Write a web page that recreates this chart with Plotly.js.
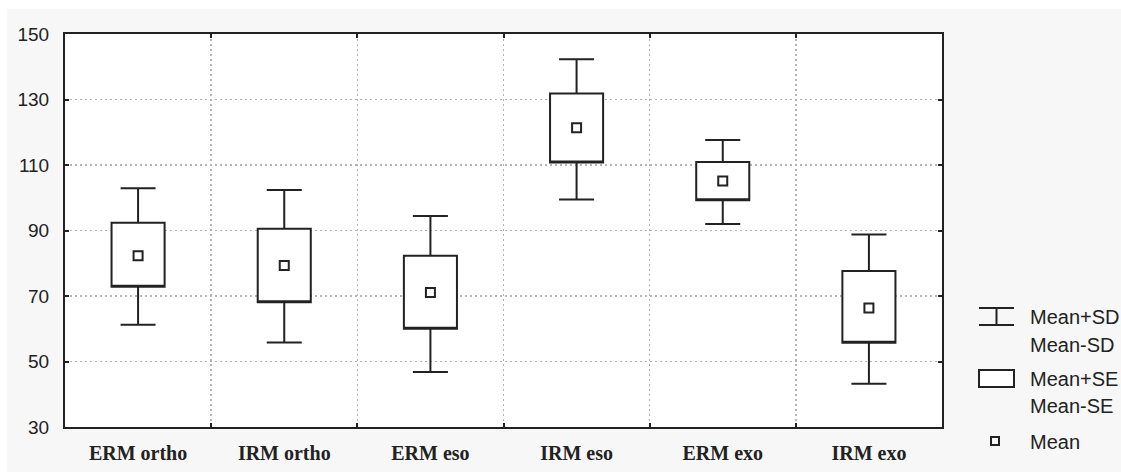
<!DOCTYPE html>
<html>
<head>
<meta charset="utf-8">
<script src="https://cdn.plot.ly/plotly-3.0.1.min.js"></script>
<style>html,body{margin:0;padding:0;background:#fff;}#chart{width:1121px;height:474px;}</style>
</head>
<body>
<div id="chart"></div>
<script>
// Categories and values
const categories = ["ERM ortho", "IRM ortho", "ERM eso", "IRM eso", "ERM exo", "IRM exo"];
const meanVals   = [82.3, 79.3, 71.1, 121.4, 105.1, 66.3];
const seUpper    = [92.4, 90.5, 82.3, 131.8, 110.9, 77.6];
const seLower    = [72.8, 68.1, 60.0, 110.8, 99.2, 55.7];
const sdUpper    = [102.9, 102.4, 94.4, 142.3, 117.6, 88.8];
const sdLower    = [61.2, 55.8, 46.8, 99.5, 92.0, 43.2];
const yTicks     = [30, 50, 70, 90, 110, 130, 150];
const legendLabels = [["Mean+SD", "Mean-SD"], ["Mean+SE", "Mean-SE"], ["Mean"]];

const W = 1121, H = 474;
const L = 65, R = 942, T = 34, B = 427;
const px = x => (x - L) / (R - L);
const py = y => (B - y) / (B - T);
const ink = '#222222';

const boxTrace = {
  type: 'box',
  x: categories,
  q1: seLower,
  median: seLower,
  q3: seUpper,
  lowerfence: sdLower,
  upperfence: sdUpper,
  boxpoints: false,
  width: 0.363,
  whiskerwidth: 0.66,
  fillcolor: '#ffffff',
  line: {color: ink, width: 2},
  hoverinfo: 'skip',
  showlegend: false
};

const meanTrace = {
  type: 'scatter',
  mode: 'markers',
  x: categories,
  y: meanVals,
  marker: {symbol: 'square-open', size: 9, color: ink, line: {width: 2, color: ink}},
  showlegend: false,
  hoverinfo: 'skip'
};

const shapes = [
  // white outer frame strips
  {type:'rect', xref:'paper', yref:'paper', x0:px(0), x1:px(7), y0:py(H), y1:py(0), fillcolor:'#ffffff', line:{width:0}, layer:'below'},
  {type:'rect', xref:'paper', yref:'paper', x0:px(0), x1:px(W), y0:py(9), y1:py(0), fillcolor:'#ffffff', line:{width:0}, layer:'below'},
  {type:'rect', xref:'paper', yref:'paper', x0:px(0), x1:px(W), y0:py(H), y1:py(472), fillcolor:'#ffffff', line:{width:0}, layer:'below'},
  // legend: whisker icon
  {type:'line', xref:'paper', yref:'paper', x0:px(979), x1:px(1014), y0:py(308), y1:py(308), line:{color:ink, width:2}},
  {type:'line', xref:'paper', yref:'paper', x0:px(979), x1:px(1014), y0:py(325), y1:py(325), line:{color:ink, width:2}},
  {type:'line', xref:'paper', yref:'paper', x0:px(996.5), x1:px(996.5), y0:py(308), y1:py(325), line:{color:ink, width:2}},
  // legend: box icon
  {type:'rect', xref:'paper', yref:'paper', x0:px(979), x1:px(1014), y0:py(387), y1:py(370), fillcolor:'#ffffff', line:{color:ink, width:2}},
  // legend: mean icon
  {type:'rect', xref:'paper', yref:'paper', x0:px(991), x1:px(999), y0:py(445), y1:py(437), fillcolor:'rgba(0,0,0,0)', line:{color:ink, width:2}}
];

const legFont = {family: 'Liberation Sans, Arial, sans-serif', size: 20, color: ink};
const annotations = [
  {text: legendLabels[0][0], y: 317},
  {text: legendLabels[0][1], y: 345},
  {text: legendLabels[1][0], y: 379},
  {text: legendLabels[1][1], y: 406},
  {text: legendLabels[2][0], y: 442}
].map(a => ({
  xref: 'paper', yref: 'paper', x: px(1028), y: py(a.y), xanchor: 'left', yanchor: 'middle',
  text: a.text, showarrow: false, font: legFont
}));

const layout = {
  width: W, height: H,
  margin: {l: L, r: W - R, t: T, b: H - B, pad: 0},
  paper_bgcolor: '#f7f7f7',
  plot_bgcolor: '#ffffff',
  showlegend: false,
  xaxis: {
    type: 'category',
    tickson: 'boundaries',
    range: [-0.5, 5.5],
    showgrid: true, gridcolor: '#b4b4b4', griddash: '2px,3px', gridwidth: 1.5,
    ticks: 'inside', ticklen: 4, tickwidth: 2, tickcolor: ink,
    showline: true, linecolor: ink, linewidth: 2, mirror: 'all',
    tickfont: {family: 'Liberation Serif, Times New Roman, serif', size: 20, color: ink, weight: 'bold'},
    ticklabelstandoff: 7,
    fixedrange: true
  },
  yaxis: {
    range: [30, 150],
    tickmode: 'array', tickvals: yTicks, ticktext: yTicks.map(String),
    showgrid: true, gridcolor: '#b4b4b4', griddash: '2px,3px', gridwidth: 1.5,
    zeroline: false,
    ticks: 'inside', ticklen: 4, tickwidth: 2, tickcolor: ink,
    showline: true, linecolor: ink, linewidth: 2, mirror: 'all',
    tickfont: {family: 'Liberation Sans, Arial, sans-serif', size: 19, color: ink},
    ticklabelstandoff: 10,
    fixedrange: true
  },
  shapes: shapes,
  annotations: annotations
};

Plotly.newPlot('chart', [boxTrace, meanTrace], layout, {staticPlot: true, displayModeBar: false});
</script>
</body>
</html>
